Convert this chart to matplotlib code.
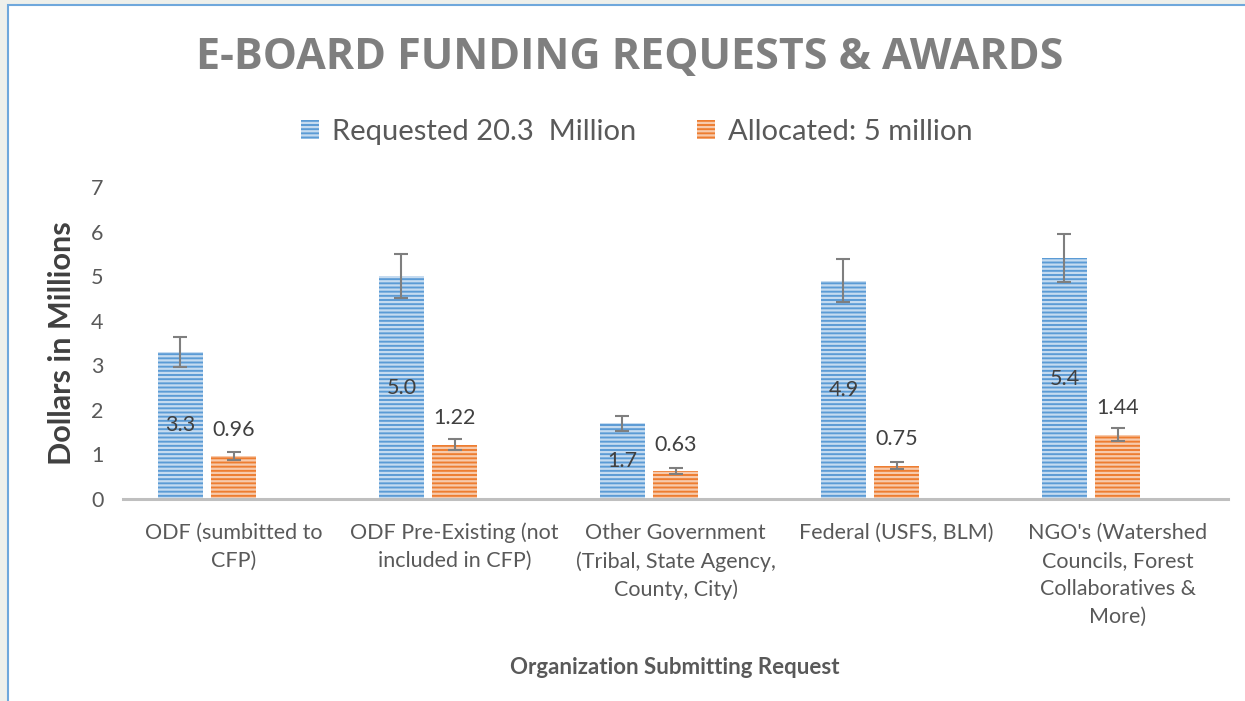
import matplotlib
matplotlib.use("Agg")
import matplotlib.pyplot as plt
from matplotlib.patches import Patch, Rectangle
import numpy as np

categories = [
    "ODF (sumbitted to\nCFP)",
    "ODF Pre-Existing (not\nincluded in CFP)",
    "Other Government\n(Tribal, State Agency,\nCounty, City)",
    "Federal (USFS, BLM)",
    "NGO's (Watershed\nCouncils, Forest\nCollaboratives &\nMore)",
]
requested = [3.3, 5.0, 1.7, 4.9, 5.4]
allocated = [0.96, 1.22, 0.63, 0.75, 1.44]
yticks = [0, 1, 2, 3, 4, 5, 6, 7]

BLUE = "#5b9bd5"
ORANGE = "#ed7d31"
TXT = "#595959"

plt.rcParams["font.family"] = ["Lato", "DejaVu Sans"]
plt.rcParams["hatch.linewidth"] = 1.6

fig = plt.figure(figsize=(12.45, 7.01), dpi=100, facecolor="#eef0eb")
# white chart area with thin blue frame (cropped on right/bottom)
fig.add_artist(Rectangle((8 / 1245, -0.05), 1.2, 1.05 - 5 / 701,
                         transform=fig.transFigure, facecolor="white",
                         edgecolor="#6fa8dc", linewidth=1.5, zorder=-1))

ax = fig.add_axes([123 / 1245, 1 - 499 / 701, (1228 - 123) / 1245, (499 - 187) / 701])
ax.set_facecolor("none")

x = np.arange(len(categories))
w = 0.204
step = 0.24
err_req = [v * 0.1 for v in requested]
err_all = [v * 0.1 for v in allocated]

ax.bar(x - step, requested, w, color=BLUE, edgecolor=(1, 1, 1, 0.65),
       linewidth=0, hatch="----", zorder=2)
ax.bar(x, allocated, w, color=ORANGE, edgecolor=(1, 1, 1, 0.6),
       linewidth=0, hatch="----", zorder=2)
ax.errorbar(x - step, requested, yerr=err_req, fmt="none", ecolor="#7f7f7f",
            elinewidth=1.5, capsize=5, capthick=1.5, zorder=3)
ax.errorbar(x, allocated, yerr=err_all, fmt="none", ecolor="#7f7f7f",
            elinewidth=1.5, capsize=5, capthick=1.5, zorder=3)

for xi, v in zip(x, requested):
    ax.text(xi - step, v / 2, f"{v:.1f}", ha="center", va="center",
            fontsize=15.5, color="#404040", zorder=4)
for xi, v in zip(x, allocated):
    ax.annotate(f"{v:.2f}", (xi, v), xytext=(0, 19), textcoords="offset points",
                ha="center", va="center", fontsize=15.5, color="#404040", zorder=4)

ax.set_xlim(-0.5, len(categories) - 0.5)
ax.set_ylim(0, 7)
ax.set_yticks(yticks)
ax.set_xticks(x)
ax.set_xticklabels(categories, linespacing=1.5)
ax.tick_params(axis="both", length=0, labelsize=15.5, labelcolor=TXT)
ax.tick_params(axis="y", pad=14)
ax.tick_params(axis="x", pad=17)
for s in ["top", "right", "left"]:
    ax.spines[s].set_visible(False)
ax.spines["bottom"].set_color("#bfbfbf")
ax.spines["bottom"].set_linewidth(2.2)

ax.set_ylabel("Dollars in Millions", fontsize=22, fontweight="bold",
              color="#404040")
ax.yaxis.set_label_coords(-0.055, 0.5)
ax.yaxis.label.set_verticalalignment("center")
fig.text(675 / 1245, 1 - 668 / 701, "Organization Submitting Request",
         ha="center", va="center", fontsize=16, fontweight="bold", color=TXT)

fig.text(630 / 1245, 1 - 57 / 701, "E-BOARD FUNDING REQUESTS & AWARDS",
         ha="center", va="center", fontsize=31, fontweight="bold", color="#7f7f7f",
         family=["Open Sans", "DejaVu Sans"])

handles = [Patch(facecolor=BLUE, edgecolor=(1, 1, 1, 0.65), linewidth=0, hatch="----",
                 label="Requested 20.3  Million"),
           Patch(facecolor=ORANGE, edgecolor=(1, 1, 1, 0.6), linewidth=0, hatch="----",
                 label="Allocated: 5 million")]
fig.legend(handles=handles, loc="center", bbox_to_anchor=(637 / 1245, 1 - 132 / 701),
           ncol=2, frameon=False, fontsize=21, labelcolor=TXT,
           handlelength=0.6, handleheight=0.6, handletextpad=0.45, columnspacing=2.1)

fig.savefig("out.png", dpi=100, facecolor=fig.get_facecolor())
